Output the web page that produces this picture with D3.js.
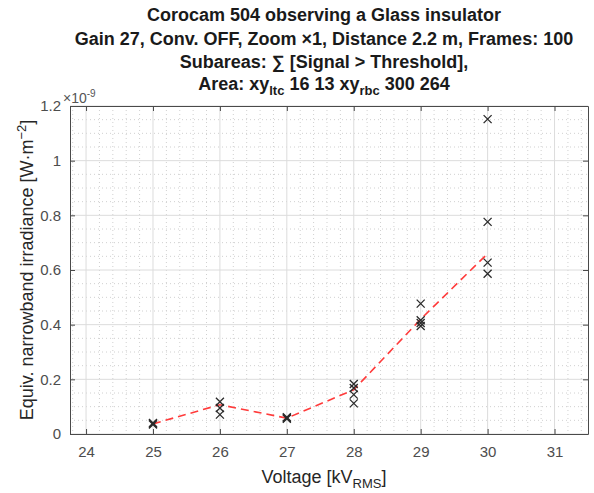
<!DOCTYPE html>
<html>
<head>
<meta charset="utf-8">
<script src="https://cdn.jsdelivr.net/npm/d3@7"></script>
<style>
	body { margin: 0; background: #fff; }
	svg { font-family: "Liberation Sans", Arial, sans-serif; }
</style>
</head>
<body>
<svg id="chart" width="594" height="493"></svg>
<script>
// measured voltages and the repeated measurements at each one
const voltages = [25, 26, 27, 28, 29, 30];
const samples = [
	[0.035, 0.038, 0.040],
	[0.118, 0.095, 0.071],
	[0.056, 0.058, 0.061],
	[0.183, 0.168, 0.144, 0.112],
	[0.477, 0.416, 0.406, 0.395],
	[1.152, 0.776, 0.627, 0.586]
];
// trend line drawn through the voltages
const trend = [0.037, 0.107, 0.058, 0.162, 0.42, 0.66];
const xTicks = [24, 25, 26, 27, 28, 29, 30, 31];
const yTicks = [0, 0.2, 0.4, 0.6, 0.8, 1, 1.2];

const svg = d3.select("#chart");
const margin = {left: 70, right: 6, top: 106, bottom: 59};
const width = 594 - margin.left - margin.right;
const height = 493 - margin.top - margin.bottom;

const x = d3.scaleLinear().domain([23.76, 31.5]).range([0, width]);
const y = d3.scaleLinear().domain([0, 1.2]).range([height, 0]);

const g = svg.append("g").attr("transform", `translate(${margin.left},${margin.top})`);

// minor grid
const xMinor = d3.range(23.8, 31.5, 0.2).filter(v => Math.abs(v - Math.round(v)) > 0.01);
const yMinor = d3.range(0.05, 1.2, 0.05).filter(v => Math.abs(v * 5 - Math.round(v * 5)) > 0.01);
g.append("g").selectAll("line").data(xMinor).join("line")
	.attr("x1", d => x(d)).attr("x2", d => x(d))
	.attr("y1", 0).attr("y2", height)
	.attr("stroke", "#d0d0d0").attr("stroke-dasharray", "1,3");
g.append("g").selectAll("line").data(yMinor).join("line")
	.attr("x1", 0).attr("x2", width)
	.attr("y1", d => y(d)).attr("y2", d => y(d))
	.attr("stroke", "#d0d0d0").attr("stroke-dasharray", "1,3");

// major grid
g.append("g").selectAll("line").data(xTicks).join("line")
	.attr("x1", d => x(d)).attr("x2", d => x(d))
	.attr("y1", 0).attr("y2", height)
	.attr("stroke", "#dcdcdc");
g.append("g").selectAll("line").data(yTicks).join("line")
	.attr("x1", 0).attr("x2", width)
	.attr("y1", d => y(d)).attr("y2", d => y(d))
	.attr("stroke", "#dcdcdc");

// axes with inward ticks, on all four sides
const styleAxis = sel => {
	sel.select(".domain").attr("stroke", "#4a4a4a");
	sel.selectAll(".tick line").attr("stroke", "#4a4a4a");
	sel.selectAll("text").attr("fill", "#4d4d4d").attr("font-size", 15);
};
g.append("g").attr("transform", `translate(0,${height})`)
	.call(d3.axisBottom(x).tickValues(xTicks).tickSizeInner(-5).tickSizeOuter(0).tickPadding(12))
	.call(styleAxis);
g.append("g")
	.call(d3.axisTop(x).tickValues(xTicks).tickSizeInner(-5).tickSizeOuter(0).tickFormat(""))
	.call(styleAxis);
g.append("g")
	.call(d3.axisLeft(y).tickValues(yTicks).tickSizeInner(-5).tickSizeOuter(0).tickPadding(9)
		.tickFormat(d => d3.format("~g")(d)))
	.call(styleAxis);
g.append("g").attr("transform", `translate(${width},0)`)
	.call(d3.axisRight(y).tickValues(yTicks).tickSizeInner(-5).tickSizeOuter(0).tickFormat(""))
	.call(styleAxis);

// trend line
const line = d3.line().x((d, i) => x(voltages[i])).y(d => y(d));
g.append("path").datum(trend)
	.attr("d", line)
	.attr("fill", "none")
	.attr("stroke", "#ff3b3b")
	.attr("stroke-width", 1.6)
	.attr("stroke-dasharray", "8,5");

// sample crosses
const points = voltages.flatMap((v, i) => samples[i].map(s => ({v, s})));
const r = 4;
g.append("g").selectAll("path").data(points).join("path")
	.attr("d", d => {
		const px = x(d.v), py = y(d.s);
		return `M${px - r},${py - r}L${px + r},${py + r}M${px - r},${py + r}L${px + r},${py - r}`;
	})
	.attr("stroke", "#2a2a2a")
	.attr("stroke-width", 1.3)
	.attr("fill", "none");

// exponent label
const expo = svg.append("text").attr("x", 63).attr("y", 103)
	.attr("font-size", 14).attr("fill", "#555");
expo.append("tspan").text("×10");
expo.append("tspan").attr("dy", -6).attr("font-size", 10).text("-9");

// title
const cx = margin.left + width / 2 - 5;
const title = svg.append("g").attr("text-anchor", "middle")
	.attr("font-weight", "bold").attr("font-size", 18).attr("fill", "#1a1a1a");
title.append("text").attr("x", cx).attr("y", 21).text("Corocam 504 observing a Glass insulator");
title.append("text").attr("x", cx).attr("y", 45).text("Gain 27, Conv. OFF, Zoom ×1, Distance 2.2 m, Frames: 100");
title.append("text").attr("x", cx).attr("y", 68).text("Subareas: ∑ [Signal > Threshold],");
const t4 = title.append("text").attr("x", cx).attr("y", 90);
t4.append("tspan").text("Area: xy");
t4.append("tspan").attr("dy", 5).attr("font-size", 13).text("ltc");
t4.append("tspan").attr("dy", -5).text(" 16 13 xy");
t4.append("tspan").attr("dy", 5).attr("font-size", 13).text("rbc");
t4.append("tspan").attr("dy", -5).text(" 300 264");

// axis labels
const xl = svg.append("text").attr("x", cx).attr("y", 483)
	.attr("text-anchor", "middle").attr("font-size", 18).attr("fill", "#262626");
xl.append("tspan").text("Voltage [kV");
xl.append("tspan").attr("dy", 5).attr("font-size", 13).text("RMS");
xl.append("tspan").attr("dy", -5).text("]");

const yl = svg.append("text")
	.attr("transform", `translate(33,${margin.top + height / 2}) rotate(-90)`)
	.attr("text-anchor", "middle").attr("font-size", 18).attr("fill", "#262626");
yl.append("tspan").text("Equiv. narrowband irradiance [W·m");
yl.append("tspan").attr("dy", -7).attr("font-size", 13).text("−2");
yl.append("tspan").attr("dy", 7).text("]");
</script>
</body>
</html>
